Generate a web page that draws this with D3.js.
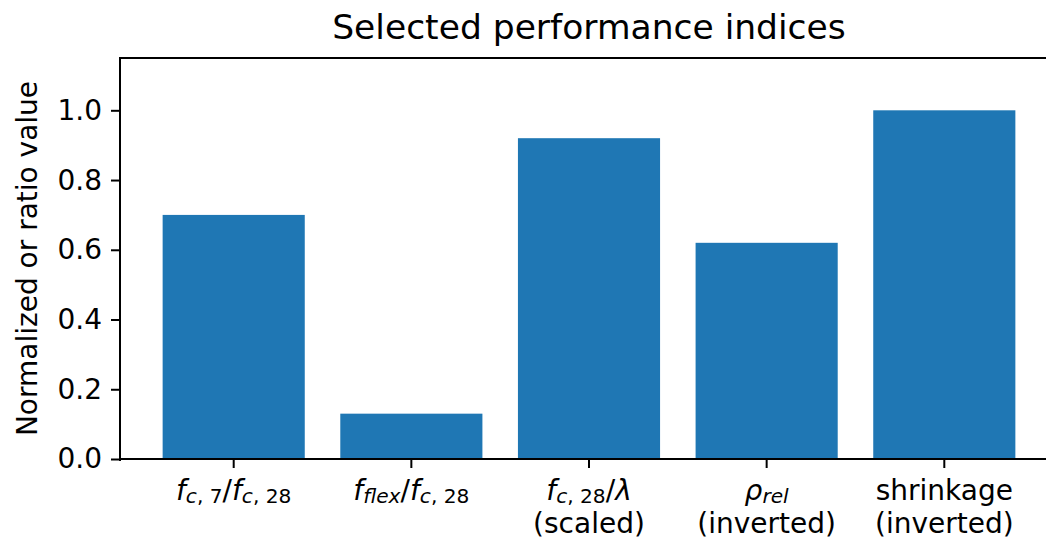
<!DOCTYPE html>
<html>
<head>
<meta charset="utf-8">
<script src="https://cdn.jsdelivr.net/npm/d3@7"></script>
<style>
  html, body { margin: 0; padding: 0; background: #fff; overflow: hidden; }
  svg { display: block; font-family: "DejaVu Sans", sans-serif; }
</style>
</head>
<body>
<svg id="chart" width="1046" height="540"></svg>
<script>
// Indices shown on the chart
const categories = ["fc7_fc28", "fflex_fc28", "fc28_lambda", "rho_rel", "shrinkage"];
const values = [0.70, 0.13, 0.92, 0.62, 1.00];
const yTicks = [0.0, 0.2, 0.4, 0.6, 0.8, 1.0];
const yDomain = [0, 1.15];

// Tick label lines; each line is a list of [text, style] runs
// style: "i" italic, "s" subscript upright, "si" subscript italic, "" upright
const tickLabels = [
  [[["f", "i"], ["c", "si"], [", 7", "s"], ["/", ""], ["f", "i"], ["c", "si"], [", 28", "s"]]],
  [[["f", "i"], ["flex", "si"], ["/", ""], ["f", "i"], ["c", "si"], [", 28", "s"]]],
  [[["f", "i"], ["c", "si"], [", 28", "s"], ["/", ""], ["λ", "i"]], [["(scaled)", ""]]],
  [[["ρ", "i"], ["rel", "si"]], [["(inverted)", ""]]],
  [[["shrinkage", ""]], [["(inverted)", ""]]]
];

const title = "Selected performance indices";
const yLabel = "Normalized or ratio value";

const W = 1046, H = 540;
const margin = { left: 120, right: 1058, top: 58, bottom: 459 };
const fontSize = 28;
const tickLen = 9, tickPad = 9, lineW = 2;

const svg = d3.select("#chart");

const x = d3.scaleBand()
  .domain(categories)
  .range([margin.left, margin.right])
  .paddingInner(0.2)
  .paddingOuter(0.24);

const y = d3.scaleLinear().domain(yDomain).range([margin.bottom, margin.top]);

// Bars
svg.append("g")
  .selectAll("rect")
  .data(values)
  .join("rect")
  .attr("x", (d, i) => x(categories[i]))
  .attr("width", x.bandwidth())
  .attr("y", d => y(d))
  .attr("height", d => y(0) - y(d))
  .attr("fill", "#1f77b4");

// Y axis
const yAxis = svg.append("g")
  .attr("transform", `translate(${margin.left},0)`)
  .call(d3.axisLeft(y).tickValues(yTicks).tickFormat(d3.format(".1f"))
    .tickSize(tickLen).tickPadding(tickPad));
yAxis.select(".domain").remove();
yAxis.selectAll(".tick line").attr("stroke", "#000").attr("stroke-width", lineW);
yAxis.selectAll(".tick text")
  .attr("font-family", "DejaVu Sans")
  .attr("font-size", fontSize)
  .attr("fill", "#000");

// X axis (ticks only; labels built below)
const xAxis = svg.append("g")
  .attr("transform", `translate(0,${margin.bottom})`)
  .call(d3.axisBottom(x).tickSize(tickLen).tickFormat(""));
xAxis.select(".domain").remove();
xAxis.selectAll(".tick line").attr("stroke", "#000").attr("stroke-width", lineW);

// Multi-run tick labels with subscripts
const subScale = 0.72;
const subDrop = 0.1 * fontSize;
const lineH = 32.5;
const firstBase = 500;

categories.forEach((c, i) => {
  const cx = x(c) + x.bandwidth() / 2;
  const lines = tickLabels[i];
  lines.forEach((runs, li) => {
    const t = svg.append("text")
      .attr("x", cx)
      .attr("y", firstBase + li * lineH)
      .attr("text-anchor", "middle")
      .attr("font-size", fontSize)
      .attr("fill", "#000");
    let shift = 0;
    runs.forEach(([txt, st]) => {
      const isSub = st === "s" || st === "si";
      const target = isSub ? subDrop : 0;
      t.append("tspan")
        .attr("dy", target - shift)
        .attr("font-size", isSub ? fontSize * subScale : fontSize)
        .attr("font-style", (st === "i" || st === "si") ? "italic" : "normal")
        .text(txt);
      shift = target;
    });
  });
});

// Spines
const spine = svg.append("g").attr("stroke", "#000").attr("stroke-width", lineW).attr("fill", "none");
spine.append("line").attr("x1", margin.left).attr("x2", margin.left).attr("y1", margin.top).attr("y2", margin.bottom + lineW / 2).attr("stroke-linecap", "square");
spine.append("line").attr("x1", margin.left).attr("x2", margin.right).attr("y1", margin.bottom).attr("y2", margin.bottom).attr("stroke-linecap", "square");
spine.append("line").attr("x1", margin.left).attr("x2", margin.right).attr("y1", margin.top).attr("y2", margin.top).attr("stroke-linecap", "square");
spine.append("line").attr("x1", margin.right).attr("x2", margin.right).attr("y1", margin.top).attr("y2", margin.bottom);

// Title
svg.append("text")
  .attr("x", (margin.left + margin.right) / 2)
  .attr("y", 39)
  .attr("text-anchor", "middle")
  .attr("font-size", 34.5)
  .attr("fill", "#000")
  .text(title);

// Y label
svg.append("text")
  .attr("transform", `translate(37,${(margin.top + margin.bottom) / 2}) rotate(-90)`)
  .attr("text-anchor", "middle")
  .attr("font-size", fontSize)
  .attr("fill", "#000")
  .text(yLabel);
</script>
</body>
</html>
